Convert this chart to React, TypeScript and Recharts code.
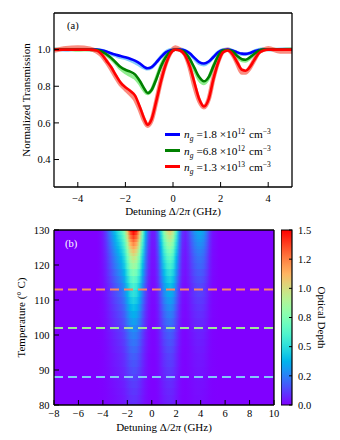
import React from "react";
import {
  ComposedChart,
  Line,
  XAxis,
  YAxis,
  ReferenceArea,
  ReferenceLine,
  Label,
} from "recharts";

// ---- panel (a): transmission spectra ----
const detuning = [
  -5, -4.5, -4, -3.5, -3.2, -3.0, -2.8, -2.6, -2.4, -2.2, -2.0, -1.8, -1.6, -1.4, -1.2, -1.07, -0.9,
  -0.7, -0.5, -0.3, -0.1, 0.1, 0.3, 0.5, 0.7, 0.9, 1.1, 1.3, 1.5, 1.7, 1.9, 2.1, 2.3, 2.5, 2.7, 2.9,
  3.05, 3.2, 3.4, 3.6, 3.8, 4.0, 4.5, 5.0,
];
const fitLow = [
  1, 1, 1, 1, 1, 0.997, 0.99, 0.98, 0.972, 0.965, 0.958, 0.95, 0.94, 0.925, 0.905, 0.898, 0.905,
  0.93, 0.96, 0.985, 0.997, 1, 1, 0.995, 0.98, 0.955, 0.932, 0.924, 0.935, 0.96, 0.985, 0.998, 1,
  0.995, 0.985, 0.978, 0.977, 0.98, 0.99, 0.998, 1, 1, 1, 1,
];
const fitMid = [
  1, 1, 1, 1, 0.998, 0.99, 0.975, 0.955, 0.93, 0.905, 0.89, 0.88, 0.865, 0.83, 0.785, 0.763, 0.78,
  0.84, 0.91, 0.96, 0.99, 1, 0.998, 0.985, 0.95, 0.9, 0.85, 0.827, 0.85, 0.91, 0.965, 0.995, 0.998,
  0.99, 0.965, 0.948, 0.945, 0.955, 0.975, 0.993, 1, 1, 1, 1,
];
const fitHigh = [
  1, 1, 1, 1, 0.995, 0.975, 0.94, 0.905, 0.86, 0.82, 0.795, 0.775, 0.75, 0.69, 0.62, 0.59, 0.62,
  0.72, 0.83, 0.92, 0.98, 1, 0.995, 0.97, 0.91, 0.82, 0.73, 0.69, 0.73, 0.84, 0.93, 0.985, 0.995,
  0.975, 0.93, 0.89, 0.885, 0.9, 0.94, 0.98, 0.995, 1, 1, 1,
];
const dataLow = [
  1.003, 0.998, 1.004, 1, 0.998, 0.995, 0.987, 0.976, 0.967, 0.958, 0.952, 0.942, 0.93, 0.915, 0.9,
  0.895, 0.902, 0.93, 0.962, 0.988, 1, 1.004, 1.002, 0.995, 0.978, 0.95, 0.925, 0.918, 0.932, 0.96,
  0.987, 1, 1.002, 0.995, 0.983, 0.975, 0.975, 0.979, 0.99, 1, 1.003, 1, 1.002, 1.004,
];
const dataMid = [
  1, 1.004, 0.998, 1, 0.997, 0.988, 0.972, 0.95, 0.925, 0.895, 0.875, 0.86, 0.845, 0.815, 0.775,
  0.76, 0.78, 0.845, 0.915, 0.965, 0.995, 1.005, 1, 0.985, 0.945, 0.89, 0.835, 0.815, 0.845, 0.91,
  0.965, 0.997, 1, 0.99, 0.96, 0.94, 0.938, 0.95, 0.975, 0.995, 1, 1.002, 1, 1.004,
];
const dataHigh = [
  0.995, 1.008, 1.012, 1.005, 0.99, 0.97, 0.935, 0.895, 0.85, 0.81, 0.785, 0.76, 0.73, 0.675, 0.61,
  0.585, 0.615, 0.72, 0.835, 0.925, 0.985, 1.012, 1, 0.975, 0.905, 0.8, 0.72, 0.685, 0.73, 0.845,
  0.935, 0.99, 1, 0.975, 0.925, 0.875, 0.875, 0.895, 0.94, 0.985, 1, 1.008, 0.99, 0.99,
];
const densityMantissa = ["1.8", "6.8", "1.3"];
const densityExponent = ["12", "12", "13"];
const fitColors = ["#0000ff", "#008000", "#ff0000"];
const dataColors = ["#87cefa", "#90ee90", "#fa8072"];

// ---- panel (b): optical depth map ----
const mapXDomain = [-8, 10];
const tempDomain = [80, 130];
const mapDetuning = [
  -8, -4.5, -4.2, -4.0, -3.75, -3.5, -3.25, -3.0, -2.75, -2.5, -2.25, -2.0, -1.75, -1.5, -1.25, -1.0,
  -0.75, -0.5, -0.25, 0, 0.25, 0.5, 0.75, 1.0, 1.25, 1.5, 1.75, 2.0, 2.25, 2.5, 2.75, 3.0, 3.25, 3.5,
  3.75, 4.0, 4.25, 4.5, 4.75, 5.0, 5.5, 10,
];
const odAt130 = [
  0, 0, 0.02, 0.05, 0.12, 0.22, 0.32, 0.42, 0.52, 0.62, 0.78, 1.1, 1.42, 1.55, 1.45, 1.15, 0.72,
  0.38, 0.15, 0.05, 0.06, 0.2, 0.5, 0.8, 1.0, 1.08, 0.95, 0.62, 0.3, 0.1, 0.06, 0.12, 0.22, 0.3,
  0.35, 0.36, 0.32, 0.22, 0.1, 0.03, 0, 0,
];
const temps = [
  130, 129, 128, 127, 126, 125, 124, 123, 122, 121, 120, 118, 116, 114, 112, 110, 108, 106, 104, 102,
  100, 98, 96, 94, 92, 90, 88, 86, 84, 82, 80,
];
const relDensity = [
  1, 0.945, 0.89, 0.84, 0.79, 0.745, 0.7, 0.66, 0.62, 0.585, 0.55, 0.485, 0.43, 0.38, 0.335, 0.3,
  0.265, 0.235, 0.21, 0.185, 0.165, 0.148, 0.132, 0.118, 0.105, 0.094, 0.084, 0.075, 0.067, 0.06,
  0.054,
];
const markTemps = [113, 102, 88];
const markColors = ["#fa8468", "#9ee69a", "#84c4fc"];
const odTicks = [0, 0.25, 0.5, 0.75, 1.0, 1.25, 1.5];
const odTickLabels = ["0.0", "0.2", "0.5", "0.8", "1.0", "1.2", "1.5"];
const odMax = 1.5;

const serif = "'Liberation Serif', 'DejaVu Serif', serif";
const tickStyle = { fill: "#000", fontSize: 10.5, fontFamily: serif };
const frame = { stroke: "#000", strokeWidth: 1.3 };
const minus = (v: number) => (v < 0 ? "\u2212" + Math.abs(v) : String(v));

// matplotlib "rainbow"
function rainbow(v: number) {
  const t = Math.min(1, Math.max(0, v / odMax));
  const r = Math.min(1, Math.abs(2 * t - 0.5));
  const g = Math.sin(Math.PI * t);
  const b = Math.cos((Math.PI * t) / 2);
  return `rgb(${Math.round(r * 255)},${Math.round(g * 255)},${Math.round(b * 255)})`;
}

const specRows = detuning.map((x, i) => ({
  x,
  dLow: dataLow[i],
  dMid: dataMid[i],
  dHigh: dataHigh[i],
  fLow: fitLow[i],
  fMid: fitMid[i],
  fHigh: fitHigh[i],
}));

const mapAnchors = mapXDomain.map((x, i) => ({ x, t: tempDomain[i] }));
const barAnchors = [0, 1].map((c, i) => ({ c, od: i * odMax }));

// each band runs a little into the next one so no seam shows through
const rowBands = temps.map((t, j) => ({
  id: `odrow${j}`,
  top: j === 0 ? tempDomain[1] : (temps[j - 1] + t) / 2,
  bottom: j === temps.length - 1 ? tempDomain[0] : Math.max(tempDomain[0], (temps[j + 1] + t) / 2 - 0.4),
  stops: mapDetuning.map((x, k) => ({
    offset: `${((x - mapXDomain[0]) / (mapXDomain[1] - mapXDomain[0])) * 100}%`,
    color: rainbow(odAt130[k] * relDensity[j]),
  })),
}));

const detuningLabel = (dy: number) => (props: any) => {
  const { x, y, width } = props.viewBox;
  return (
    <text x={x + width / 2} y={y + dy} textAnchor="middle" fontSize={11} fontFamily={serif} fill="#000">
      Detuning Δ/2<tspan fontStyle="italic">π</tspan> (GHz)
    </text>
  );
};

const small = { fontSize: 7.5, position: "relative" as const, lineHeight: 0 };

function DensityLegend() {
  return (
    <div style={{ position: "absolute", left: 165, top: 126, fontFamily: serif, fontSize: 11.3, color: "#000" }}>
      {densityMantissa.map((m, i) => (
        <div key={m + i} style={{ display: "flex", alignItems: "center", whiteSpace: "nowrap", height: 16.4 }}>
          <span style={{ width: 15, height: 3, background: fitColors[i], marginRight: 4 }} />
          <span style={{ lineHeight: "12px" }}>
            <i>n</i>
            <i style={{ ...small, top: 3 }}>g</i>
            <span style={{ marginLeft: 3 }}>=</span>
            {m} ×10<span style={{ ...small, top: -4 }}>{densityExponent[i]}</span>
            <span style={{ marginLeft: 4 }}>cm</span>
            <span style={{ ...small, top: -4 }}>−3</span>
          </span>
        </div>
      ))}
    </div>
  );
}

export default function App() {
  return (
    <div style={{ position: "absolute", left: 0, top: 0, width: 340, height: 440, background: "#fff", fontFamily: serif }}>
      <ComposedChart width={340} height={220} data={specRows} margin={{ top: 12, right: 47, bottom: 0, left: 0 }}>
        <XAxis type="number" dataKey="x" domain={[-5, 5]} ticks={[-4, -2, 0, 2, 4]} tickFormatter={minus}
          height={33} tickSize={-5} tickMargin={12.5} axisLine={frame} tickLine={{ stroke: "#000" }} tick={tickStyle} allowDataOverflow>
          <Label content={detuningLabel(27.5)} />
        </XAxis>
        <XAxis xAxisId="top" orientation="top" type="number" dataKey="x" domain={[-5, 5]} ticks={[-4, -2, 0, 2, 4]}
          height={1} tickSize={-5} tick={false} axisLine={frame} tickLine={{ stroke: "#000" }} allowDataOverflow />
        <YAxis type="number" domain={[0.25, 1.2]} ticks={[0.4, 0.6, 0.8, 1.0]} tickFormatter={(v: number) => v.toFixed(1)}
          width={54} tickSize={-5} tickMargin={8.5} axisLine={frame} tickLine={{ stroke: "#000" }} tick={tickStyle} allowDataOverflow
          label={{ value: "Normalized Transmission", angle: -90, position: "center", dx: -1, style: { fontSize: 11, fontFamily: serif, fill: "#000" } }} />
        <YAxis yAxisId="right" orientation="right" type="number" domain={[0.25, 1.2]} ticks={[0.4, 0.6, 0.8, 1.0]}
          width={1} tickSize={-5} tick={false} axisLine={frame} tickLine={{ stroke: "#000" }} allowDataOverflow />
        <Line type="monotone" dataKey="dLow" stroke={dataColors[0]} strokeWidth={3.5} dot={false} isAnimationActive={false} />
        <Line type="monotone" dataKey="dMid" stroke={dataColors[1]} strokeWidth={3.5} dot={false} isAnimationActive={false} />
        <Line type="monotone" dataKey="dHigh" stroke={dataColors[2]} strokeWidth={4.5} strokeOpacity={0.9} dot={false} isAnimationActive={false} />
        <Line type="monotone" dataKey="fLow" stroke={fitColors[0]} strokeWidth={2.6} dot={false} isAnimationActive={false} />
        <Line type="monotone" dataKey="fMid" stroke={fitColors[1]} strokeWidth={2.6} dot={false} isAnimationActive={false} />
        <Line type="monotone" dataKey="fHigh" stroke={fitColors[2]} strokeWidth={2.6} dot={false} isAnimationActive={false} />
      </ComposedChart>
      <DensityLegend />
      <div style={{ position: "absolute", left: 67, top: 20, fontSize: 10.5, color: "#000" }}>(a)</div>

      <div style={{ position: "absolute", left: 0, top: 220 }}>
        <ComposedChart width={340} height={220} data={mapAnchors} margin={{ top: 9, right: 65, bottom: 0, left: 0 }}>
          <defs>
            {rowBands.map((r) => (
              <linearGradient key={r.id} id={r.id} x1="0" y1="0" x2="1" y2="0">
                {r.stops.map((s, k) => (
                  <stop key={k} offset={s.offset} stopColor={s.color} />
                ))}
              </linearGradient>
            ))}
          </defs>
          {rowBands.map((r) => (
            <ReferenceArea key={r.id} x1={mapXDomain[0]} x2={mapXDomain[1]} y1={r.bottom} y2={r.top}
              fill={`url(#${r.id})`} fillOpacity={1} stroke="none" shapeRendering="crispEdges" />
          ))}
          {markTemps.map((t, i) => (
            <ReferenceLine key={t} y={t} stroke={markColors[i]} strokeWidth={2} strokeDasharray="9 5" />
          ))}
          <XAxis type="number" dataKey="x" domain={mapXDomain} ticks={[-8, -6, -4, -2, 0, 2, 4, 6, 8, 10]} tickFormatter={minus}
            height={35} tickSize={-5} tickMargin={9.5} axisLine={frame} tickLine={{ stroke: "#000" }} tick={tickStyle}>
            <Label content={detuningLabel(25.5)} />
          </XAxis>
          <XAxis xAxisId="top" orientation="top" type="number" dataKey="x" domain={mapXDomain} ticks={[-8, -6, -4, -2, 0, 2, 4, 6, 8, 10]}
            height={1} tickSize={-5} tick={false} axisLine={frame} tickLine={{ stroke: "#000" }} />
          <YAxis type="number" dataKey="t" domain={tempDomain} ticks={[80, 90, 100, 110, 120, 130]}
            width={54} tickSize={-5} tickMargin={9.5} axisLine={frame} tickLine={{ stroke: "#000" }} tick={tickStyle}
            label={{ value: "Temperature (° C)", angle: -90, position: "center", dx: -6, style: { fontSize: 11, fontFamily: serif, fill: "#000" } }} />
          <YAxis yAxisId="right" orientation="right" type="number" dataKey="t" domain={tempDomain} ticks={[80, 90, 100, 110, 120, 130]}
            width={1} tickSize={-5} tick={false} axisLine={frame} tickLine={{ stroke: "#000" }} />
        </ComposedChart>
        <div style={{ position: "absolute", left: 65, top: 18, fontSize: 10.5, color: "#fff" }}>(b)</div>

        <div style={{ position: "absolute", left: 281, top: 0 }}>
          <ComposedChart width={59} height={220} data={barAnchors} margin={{ top: 10, right: 0, bottom: 35, left: 0 }}>
            <defs>
              <linearGradient id="odbar" x1="0" y1="1" x2="0" y2="0">
                {Array.from({ length: 21 }, (_, k) => (
                  <stop key={k} offset={`${k * 5}%`} stopColor={rainbow((k / 20) * odMax)} />
                ))}
              </linearGradient>
            </defs>
            <XAxis type="number" dataKey="c" domain={[0, 1]} hide />
            <YAxis orientation="right" type="number" dataKey="od" domain={[0, odMax]} ticks={odTicks}
              tickFormatter={(v: number) => odTickLabels[odTicks.indexOf(v)]}
              width={48} tickSize={-3} tickMargin={9} axisLine={false} tickLine={{ stroke: "#000" }} tick={tickStyle}
              label={{ value: "Optical Depth", angle: 90, position: "center", dx: 6, style: { fontSize: 11, fontFamily: serif, fill: "#000" } }} />
            <ReferenceArea x1={0} x2={1} y1={0} y2={odMax} fill="url(#odbar)" fillOpacity={1} stroke="#000" strokeWidth={1.2} />
          </ComposedChart>
        </div>
      </div>
    </div>
  );
}
